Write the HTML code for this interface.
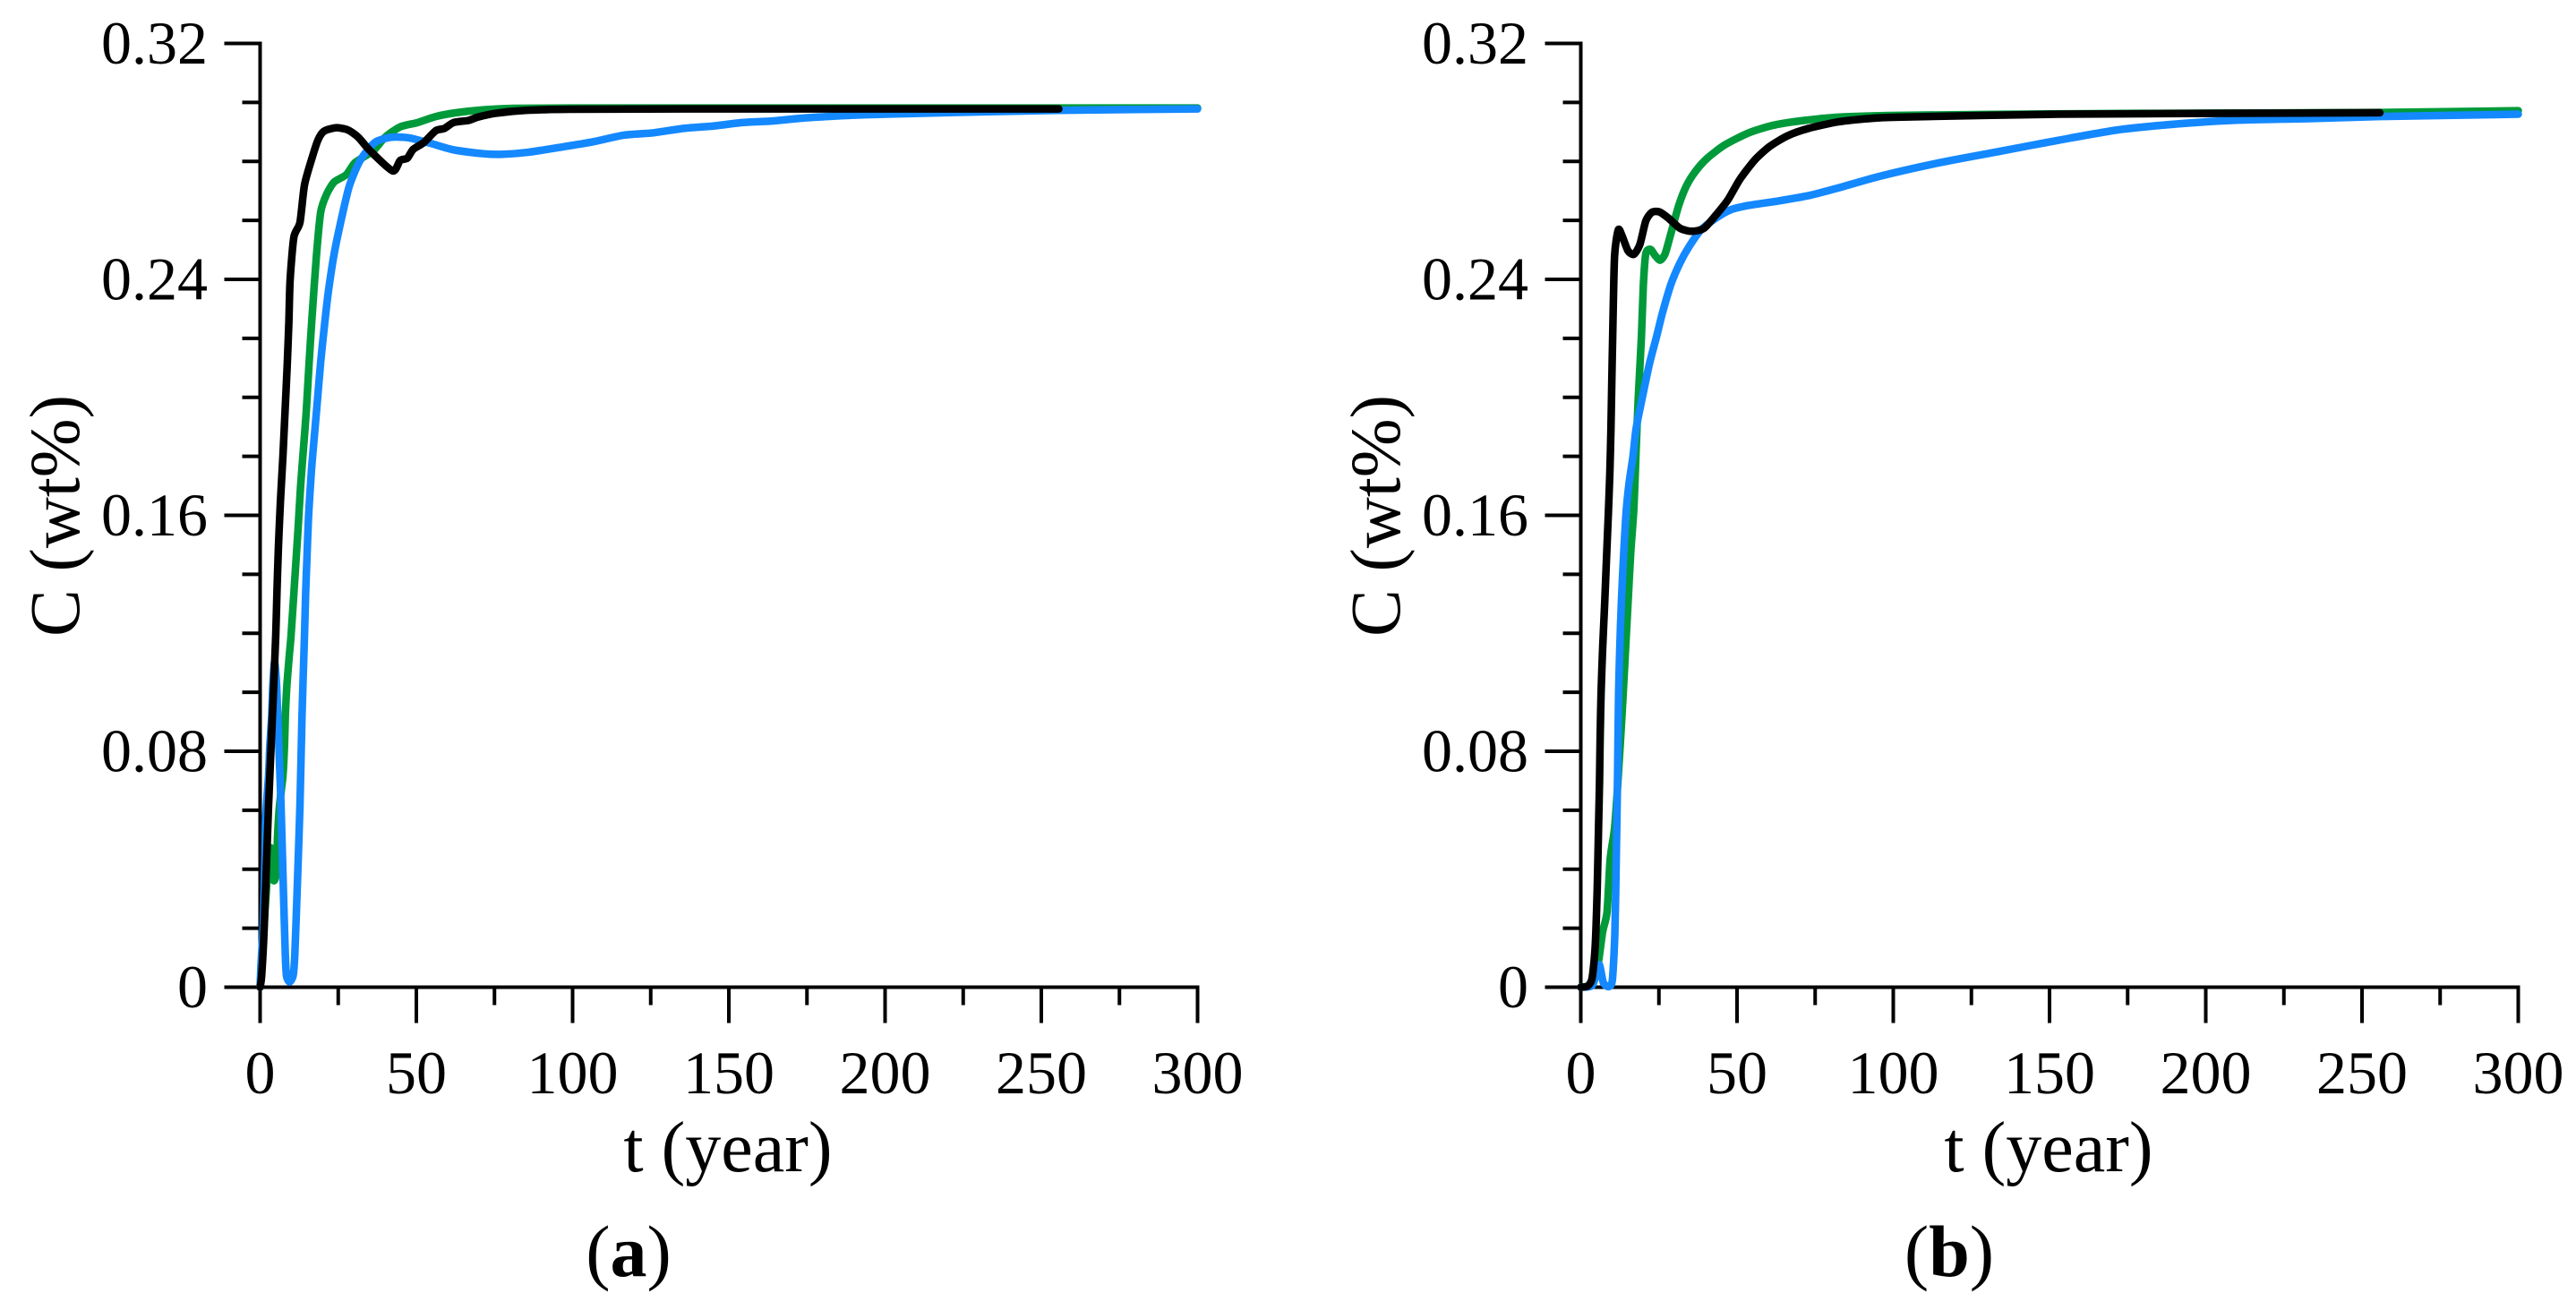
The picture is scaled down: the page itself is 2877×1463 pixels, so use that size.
<!DOCTYPE html>
<html lang="en">
<head>
<meta charset="utf-8">
<title>Concentration over time</title>
<style>
html,body{margin:0;padding:0;background:#fff;width:2877px;height:1463px;overflow:hidden}
svg{display:block}
text{font-family:"Liberation Serif","Times New Roman",serif;fill:#000}
</style>
</head>
<body>
<svg id="figure" xmlns="http://www.w3.org/2000/svg" width="2877" height="1463" viewBox="0 0 2877 1463">
  <rect width="2877" height="1463" fill="#fff"/>
  <g id="panel-a"></g>
  <g id="panel-b" transform="translate(1475 0)"></g>
</svg>
<script>
const xTickValues = [0, 50, 100, 150, 200, 250, 300];
const xMinorValues = [25, 75, 125, 175, 225, 275];
const yTickValues = [0, 0.08, 0.16, 0.24, 0.32];
const yTickLabels = ['0', '0.08', '0.16', '0.24', '0.32'];
const yMinorValues = [0.02, 0.04, 0.06, 0.1, 0.12, 0.14, 0.18, 0.2, 0.22, 0.26, 0.28, 0.3];

const aGreenT = [0, 0.5, 1.5, 2.5, 3.4, 3.9, 4.35, 4.9, 5.3, 5.6, 6.2, 7.3, 7.8, 8.07, 8.55, 9.3, 9.9, 11.1, 12.1, 12.95, 13.9, 14.76, 15.6, 16.5, 18, 19.4, 21.3, 23.7, 27.6, 30.4, 36.2, 40, 44.8, 50.5, 56.2, 62, 71.5, 81, 100, 150, 255, 300];
const aGreenC = [0, 0.008, 0.025, 0.04, 0.0473, 0.04, 0.0362, 0.037, 0.0412, 0.0514, 0.0615, 0.0716, 0.0817, 0.0918, 0.102, 0.112, 0.1192, 0.1384, 0.1546, 0.1698, 0.183, 0.195, 0.2103, 0.2254, 0.2477, 0.2629, 0.2689, 0.273, 0.2755, 0.2796, 0.2836, 0.2882, 0.2917, 0.2932, 0.2952, 0.2964, 0.2975, 0.298, 0.2981, 0.2981, 0.2981, 0.2981];

const aBlueT = [0, 0.3, 1, 1.5, 1.77, 2.7, 3.1, 3.7, 4.06, 4.63, 5.3, 6, 6.7, 7.5, 8.07, 8.45, 9.4, 10.55, 11.1, 11.8, 12.75, 13.4, 14.2, 14.6, 14.95, 15.5, 16.4, 17.2, 18.2, 19.4, 20.7, 21.8, 23.7, 26.1, 28.5, 31.4, 34.2, 37.1, 41.9, 47.6, 54.3, 62, 71.5, 77.2, 85.8, 97.3, 106.8, 116.4, 125.9, 135.5, 145, 154.6, 164, 173.7, 183, 192.7, 212, 235, 255, 300];
const aBlueC = [0, 0.008, 0.021, 0.0412, 0.0574, 0.0716, 0.0817, 0.0918, 0.102, 0.1103, 0.102, 0.0817, 0.0615, 0.0311, 0.0109, 0.0038, 0.0018, 0.0038, 0.0109, 0.0311, 0.0615, 0.0918, 0.1192, 0.1344, 0.1444, 0.1596, 0.1748, 0.1849, 0.1972, 0.2122, 0.2254, 0.2355, 0.2487, 0.2609, 0.2715, 0.2791, 0.2836, 0.2867, 0.2882, 0.288, 0.2862, 0.2839, 0.2826, 0.2824, 0.2831, 0.285, 0.2867, 0.2889, 0.2897, 0.2912, 0.292, 0.2932, 0.2937, 0.2947, 0.2953, 0.2958, 0.2963, 0.2969, 0.2973, 0.2978];

const aBlackT = [0, 0.5, 1.3, 2.7, 4.15, 5, 5.4, 5.87, 6.5, 7.3, 7.97, 8.65, 9.2, 9.6, 10.8, 12.75, 14.2, 16.6, 18.5, 20.4, 24.2, 28, 31.4, 35.2, 42.4, 44.8, 47.1, 49, 52.4, 56.2, 59, 62, 66.7, 69.6, 75.3, 84.9, 100, 150, 255.6];
const aBlackC = [0, 0.004, 0.02, 0.0615, 0.097, 0.1192, 0.1343, 0.1495, 0.1647, 0.18, 0.195, 0.2103, 0.2254, 0.2397, 0.2543, 0.2593, 0.272, 0.2811, 0.2872, 0.2902, 0.2914, 0.2907, 0.2882, 0.2836, 0.2768, 0.2803, 0.2811, 0.2841, 0.2864, 0.2904, 0.2912, 0.2932, 0.2939, 0.295, 0.2963, 0.2973, 0.2977, 0.2978, 0.2978];

const bGreenT = [0, 3.6, 5.5, 7, 8.4, 9.4, 10.8, 11.9, 13.2, 14.1, 15.1, 16, 17, 17.7, 18.4, 19.4, 20, 20.8, 22.3, 23.7, 25.4, 27, 28.9, 31.3, 33.7, 36.6, 40.4, 46.1, 53.8, 61.4, 70, 82.4, 101.5, 150, 210, 255.7, 300];
const bGreenC = [0, 0.001, 0.0076, 0.0188, 0.0255, 0.0434, 0.0538, 0.07, 0.0925, 0.11, 0.13, 0.1477, 0.1626, 0.182, 0.2, 0.2204, 0.2376, 0.2487, 0.2502, 0.2482, 0.2465, 0.2487, 0.2558, 0.2649, 0.2715, 0.2765, 0.281, 0.2856, 0.2897, 0.2922, 0.2937, 0.295, 0.2956, 0.2961, 0.2964, 0.2966, 0.2972];

const bBlueT = [0, 3.6, 5, 6, 7.2, 8.9, 10.1, 10.9, 11.3, 11.75, 12.1, 12.7, 13.4, 14.4, 15.4, 16.7, 17.7, 19.7, 22, 24.2, 26.1, 28.9, 31.8, 34.7, 38.5, 43.3, 48, 53.8, 63.3, 72.9, 82.4, 95.8, 115, 134, 153, 172, 191, 210.4, 233, 255.7, 300];
const bBlueC = [0, 0.0005, 0.0046, 0.0076, 0.0016, 0.0002, 0.0024, 0.018, 0.0404, 0.0702, 0.1, 0.1224, 0.1402, 0.1596, 0.1705, 0.18, 0.1894, 0.2, 0.2115, 0.2204, 0.2285, 0.2385, 0.2457, 0.2512, 0.2568, 0.2608, 0.2636, 0.2651, 0.2666, 0.2684, 0.271, 0.275, 0.2796, 0.2834, 0.2872, 0.2907, 0.2927, 0.294, 0.2945, 0.2952, 0.296];

const bBlackT = [0, 2.2, 3.6, 4.6, 5.25, 5.7, 6, 6.2, 6.5, 7, 7.64, 8.2, 8.8, 9.3, 9.65, 9.9, 10.2, 10.8, 12, 13.2, 15.1, 17, 18.9, 20.8, 22.7, 25.1, 28, 31.8, 35.6, 39.4, 43.3, 47.1, 50.9, 55.7, 60.5, 66.2, 72.9, 82.4, 92, 101.5, 153, 210, 255.7];
const bBlackC = [0, 0.0004, 0.003, 0.0136, 0.033, 0.055, 0.07, 0.085, 0.1, 0.115, 0.13, 0.1447, 0.16, 0.1745, 0.1894, 0.204, 0.2204, 0.2477, 0.2568, 0.2548, 0.2497, 0.2485, 0.2518, 0.2598, 0.2627, 0.2629, 0.2608, 0.2573, 0.2563, 0.2573, 0.2619, 0.267, 0.2739, 0.2805, 0.2851, 0.2887, 0.2912, 0.2934, 0.2945, 0.295, 0.296, 0.2963, 0.2965];

const X0 = 290.5, X_PER_YEAR = 3.49, Y0 = 1102.5, Y_PER_UNIT = 3293.75;
const SVG_NS = 'http://www.w3.org/2000/svg';
function xScale(t) { return X0 + t * X_PER_YEAR; }
function yScale(c) { return Y0 - c * Y_PER_UNIT; }

function make(tag, attrs, parent) {
  const el = document.createElementNS(SVG_NS, tag);
  for (const k in attrs) el.setAttribute(k, attrs[k]);
  parent.appendChild(el);
  return el;
}

function smoothPath(ts, cs) {
  const p = ts.map((t, i) => [xScale(t), yScale(cs[i])]);
  let d = 'M' + p[0][0].toFixed(2) + ' ' + p[0][1].toFixed(2);
  for (let i = 0; i < p.length - 1; i++) {
    const a = p[Math.max(i - 1, 0)], b = p[i], c = p[i + 1], e = p[Math.min(i + 2, p.length - 1)];
    const k = 0.12;
    const c1 = [b[0] + (c[0] - a[0]) * k, b[1] + (c[1] - a[1]) * k];
    const c2 = [c[0] - (e[0] - b[0]) * k, c[1] - (e[1] - b[1]) * k];
    c1[0] = Math.min(Math.max(c1[0], b[0]), c[0]);
    c2[0] = Math.min(Math.max(c2[0], b[0]), c[0]);
    d += 'C' + c1[0].toFixed(2) + ' ' + c1[1].toFixed(2) + ' ' + c2[0].toFixed(2) + ' ' + c2[1].toFixed(2) + ' ' + c[0].toFixed(2) + ' ' + c[1].toFixed(2);
  }
  return d;
}

function drawAxes(g, panelLetter) {
  const stroke = {stroke: '#000', 'stroke-width': 4, fill: 'none'};
  const yAxis = make('line', Object.assign({x1: xScale(0), x2: xScale(0), y1: yScale(0.32) - 2, y2: yScale(0) + 40}, stroke), g);
  
  
  const xAxis = make('line', Object.assign({x1: xScale(0) - 40, x2: xScale(300) + 2, y1: yScale(0), y2: yScale(0)}, stroke), g);
  
  

  xTickValues.forEach(v => {
    const tick = make('line', Object.assign({x1: xScale(v), x2: xScale(v), y1: yScale(0), y2: yScale(0) + 40}, stroke), g);
    
    
    const label = make('text', {x: xScale(v), y: 1221, 'font-size': 68, 'text-anchor': 'middle'}, g);
    
    
    label.textContent = String(v);
  });
  xMinorValues.forEach(v => {
    const tick = make('line', Object.assign({x1: xScale(v), x2: xScale(v), y1: yScale(0), y2: yScale(0) + 20}, stroke), g);
    
    
  });
  yTickValues.forEach((v, i) => {
    const tick = make('line', Object.assign({x1: xScale(0) - 40, x2: xScale(0), y1: yScale(v), y2: yScale(v)}, stroke), g);
    
    
    const label = make('text', {x: 232, y: yScale(v) + 22.5, 'font-size': 68, 'text-anchor': 'end'}, g);
    
    
    label.textContent = yTickLabels[i];
  });
  yMinorValues.forEach(v => {
    const tick = make('line', Object.assign({x1: xScale(0) - 20, x2: xScale(0), y1: yScale(v), y2: yScale(v)}, stroke), g);
    
    
  });

  const xTitle = make('text', {x: 813, y: 1308, 'font-size': 80, 'text-anchor': 'middle'}, g);
  
  
  xTitle.textContent = 't (year)';

  const yTitle = make('text', {transform: 'translate(88 576) rotate(-90)', 'font-size': 79, 'text-anchor': 'middle'}, g);
  
  
  yTitle.textContent = 'C (wt%)';

  const caption = make('text', {x: 702, y: 1425, 'font-size': 82, 'text-anchor': 'middle'}, g);
  
  
  caption.appendChild(document.createTextNode('('));
  const letter = make('tspan', {'font-weight': 'bold'}, caption);
  letter.textContent = panelLetter;
  caption.appendChild(document.createTextNode(')'));
}

function drawSeries(g, ts, cs, colour, name) {
  const path = make('path', {d: smoothPath(ts, cs), fill: 'none', stroke: colour, 'stroke-width': 8.5, 'stroke-linecap': 'round', 'stroke-linejoin': 'round'}, g);
  
  
}

const panelA = document.getElementById('panel-a');
const panelB = document.getElementById('panel-b');
drawAxes(panelA, 'a');
drawSeries(panelA, aGreenT, aGreenC, '#009a3a', 'series-green');
drawSeries(panelA, aBlueT, aBlueC, '#1488ff', 'series-blue');
drawSeries(panelA, aBlackT, aBlackC, '#000000', 'series-black');
drawAxes(panelB, 'b');
drawSeries(panelB, bGreenT, bGreenC, '#009a3a', 'series-green');
drawSeries(panelB, bBlueT, bBlueC, '#1488ff', 'series-blue');
drawSeries(panelB, bBlackT, bBlackC, '#000000', 'series-black');
</script>
</body>
</html>
